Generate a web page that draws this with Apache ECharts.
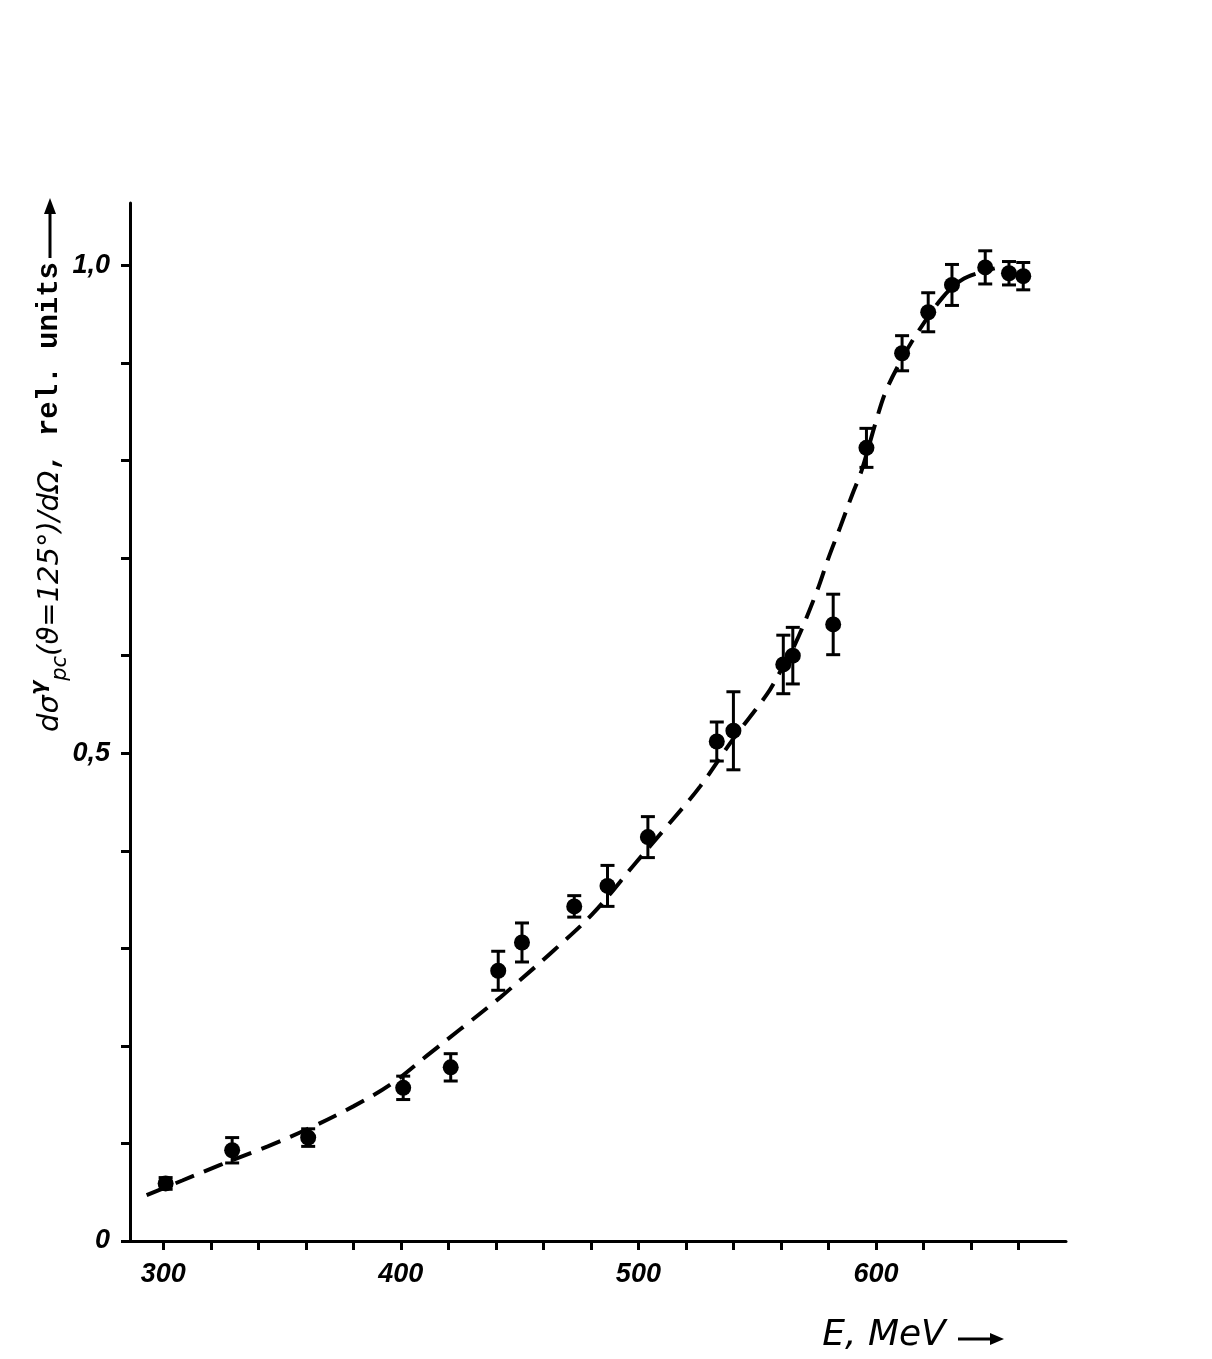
<!DOCTYPE html>
<html lang="en">
<head>
    <meta charset="UTF-8">
    <title>cross section vs E</title>
    <script src="https://cdn.jsdelivr.net/npm/echarts@6/dist/echarts.min.js"></script>
    <style>
        html, body {
            margin: 0;
            padding: 0;
            background: #fff;
        }
        #chart {
            width: 1212px;
            height: 1359px;
        }
    </style>
</head>
<body>
<div id="chart"></div>

<script>
    // measured points: energy (MeV), relative cross section, error
    var energies = [301, 329, 361, 401, 421, 441, 451, 473, 487, 504, 533, 540, 561, 565, 582, 596, 611, 622, 632, 646, 656, 662];
    var values = [0.059, 0.093, 0.106, 0.157, 0.178, 0.277, 0.306, 0.343, 0.364, 0.414, 0.512, 0.523, 0.591, 0.600, 0.632, 0.813, 0.910, 0.952, 0.980, 0.998, 0.992, 0.989];
    var errors = [0.006, 0.013, 0.009, 0.012, 0.014, 0.020, 0.020, 0.011, 0.021, 0.021, 0.020, 0.040, 0.030, 0.029, 0.031, 0.020, 0.018, 0.020, 0.021, 0.017, 0.012, 0.014];

    // dashed curve
    var curveE = [293, 308, 324, 344, 361, 380, 396, 411, 425, 442, 450, 464, 481, 499, 512, 526, 540, 554, 560, 566, 575, 580, 585, 590, 594, 600, 604, 610, 618, 628, 636, 644, 650];
    var curveY = [0.047, 0.062, 0.078, 0.097, 0.115, 0.138, 0.161, 0.190, 0.217, 0.250, 0.267, 0.297, 0.336, 0.388, 0.425, 0.466, 0.515, 0.560, 0.585, 0.612, 0.665, 0.700, 0.732, 0.765, 0.790, 0.840, 0.870, 0.900, 0.933, 0.967, 0.985, 0.993, 0.997];

    // ticks and labels
    var xTicks = [300, 320, 340, 360, 380, 400, 420, 440, 460, 480, 500, 520, 540, 560, 580, 600, 620, 640, 660];
    var xLabels = [300, 400, 500, 600];
    var yTicks = [0, 0.1, 0.2, 0.3, 0.4, 0.5, 0.6, 0.7, 0.8, 0.9, 1.0];
    var yLabels = [0, 0.5, 1.0];

    var chart = echarts.init(document.getElementById('chart'));

    var points = energies.map(function (e, i) { return [e, values[i]]; });
    var bars = energies.map(function (e, i) { return [e, values[i], errors[i]]; });
    var curve = curveE.map(function (e, i) { return [e, curveY[i]]; });

    var labelFont = {
        fontFamily: 'Liberation Sans',
        fontStyle: 'italic',
        fontWeight: 'bold',
        fontSize: 27,
        color: '#000'
    };

    // draw the vertical error bar with caps
    function renderErrorBar(params, api) {
        var e = api.value(0), v = api.value(1), d = api.value(2);
        var top = api.coord([e, v + d]);
        var bottom = api.coord([e, v - d]);
        var half = 7;
        var style = { stroke: '#000', lineWidth: 3 };
        return {
            type: 'group',
            children: [
                { type: 'line', shape: { x1: top[0], y1: top[1], x2: bottom[0], y2: bottom[1] }, style: style },
                { type: 'line', shape: { x1: top[0] - half, y1: top[1], x2: top[0] + half, y2: top[1] }, style: style },
                { type: 'line', shape: { x1: bottom[0] - half, y1: bottom[1], x2: bottom[0] + half, y2: bottom[1] }, style: style }
            ]
        };
    }

    var options = {
        backgroundColor: '#fff',
        animation: false,
        grid: { left: 130, right: 146, top: 203, bottom: 118 },
        xAxis: {
            type: 'value',
            min: 286,
            max: 680,
            axisLine: { lineStyle: { color: '#000', width: 3 } },
            axisTick: { show: true, length: 9, lineStyle: { color: '#000', width: 3 }, customValues: xTicks },
            axisLabel: Object.assign({ margin: 20, customValues: xLabels }, labelFont),
            splitLine: { show: false }
        },
        yAxis: {
            type: 'value',
            min: 0,
            max: 1.064,
            axisLine: { show: true, lineStyle: { color: '#000', width: 3 } },
            axisTick: { show: true, length: 9, lineStyle: { color: '#000', width: 3 }, customValues: yTicks },
            axisLabel: Object.assign({
                margin: 20,
                customValues: yLabels,
                formatter: function (v) {
                    return v === 0 ? '0' : v.toFixed(1).replace('.', ',');
                }
            }, labelFont),
            splitLine: { show: false }
        },
        series: [
            {
                name: 'fit',
                type: 'line',
                data: curve,
                smooth: 0.35,
                symbol: 'none',
                lineStyle: { color: '#000', width: 4, type: [20, 11] },
                z: 1
            },
            {
                name: 'errors',
                type: 'custom',
                data: bars,
                renderItem: renderErrorBar,
                z: 2
            },
            {
                name: 'data',
                type: 'scatter',
                data: points,
                symbol: 'circle',
                symbolSize: 16,
                itemStyle: { color: '#000', opacity: 1 },
                z: 3
            }
        ],
        graphic: [
            // y axis title, reading upwards, ends just below the arrow
            {
                type: 'text',
                x: 50,
                y: 262,
                rotation: Math.PI / 2,
                style: {
                    text: '{a|dσ}{sup|γ}{sub|pc}{a|(ϑ=125°)/dΩ}{b|, rel. units}',
                    align: 'right',
                    verticalAlign: 'middle',
                    fill: '#000',
                    rich: {
                        a: { fontFamily: 'DejaVu Sans', fontStyle: 'italic', fontSize: 29, lineHeight: 42, verticalAlign: 'middle' },
                        sup: { fontFamily: 'DejaVu Sans', fontStyle: 'italic', fontWeight: 'bold', fontSize: 21, lineHeight: 42, verticalAlign: 'top' },
                        sub: { fontFamily: 'DejaVu Sans', fontStyle: 'italic', fontSize: 21, lineHeight: 42, verticalAlign: 'bottom' },
                        b: { fontFamily: 'Liberation Mono', fontWeight: 'bold', fontSize: 29, lineHeight: 42, verticalAlign: 'middle' }
                    }
                }
            },
            { type: 'line', shape: { x1: 50, y1: 258, x2: 50, y2: 212 }, style: { stroke: '#000', lineWidth: 3 } },
            { type: 'polygon', shape: { points: [[50, 198], [44, 214], [56, 214]] }, style: { fill: '#000' } },
            // x axis title
            {
                type: 'text',
                x: 884,
                y: 1336,
                style: {
                    text: 'E, MeV',
                    align: 'center',
                    verticalAlign: 'middle',
                    fontFamily: 'DejaVu Sans',
                    fontStyle: 'italic',
                    fontSize: 36,
                    fill: '#000'
                }
            },
            { type: 'line', shape: { x1: 958, y1: 1339, x2: 995, y2: 1339 }, style: { stroke: '#000', lineWidth: 3 } },
            { type: 'polygon', shape: { points: [[1004, 1339], [990, 1333], [990, 1345]] }, style: { fill: '#000' } }
        ]
    };

    chart.setOption(options);
</script>
</body>
</html>
